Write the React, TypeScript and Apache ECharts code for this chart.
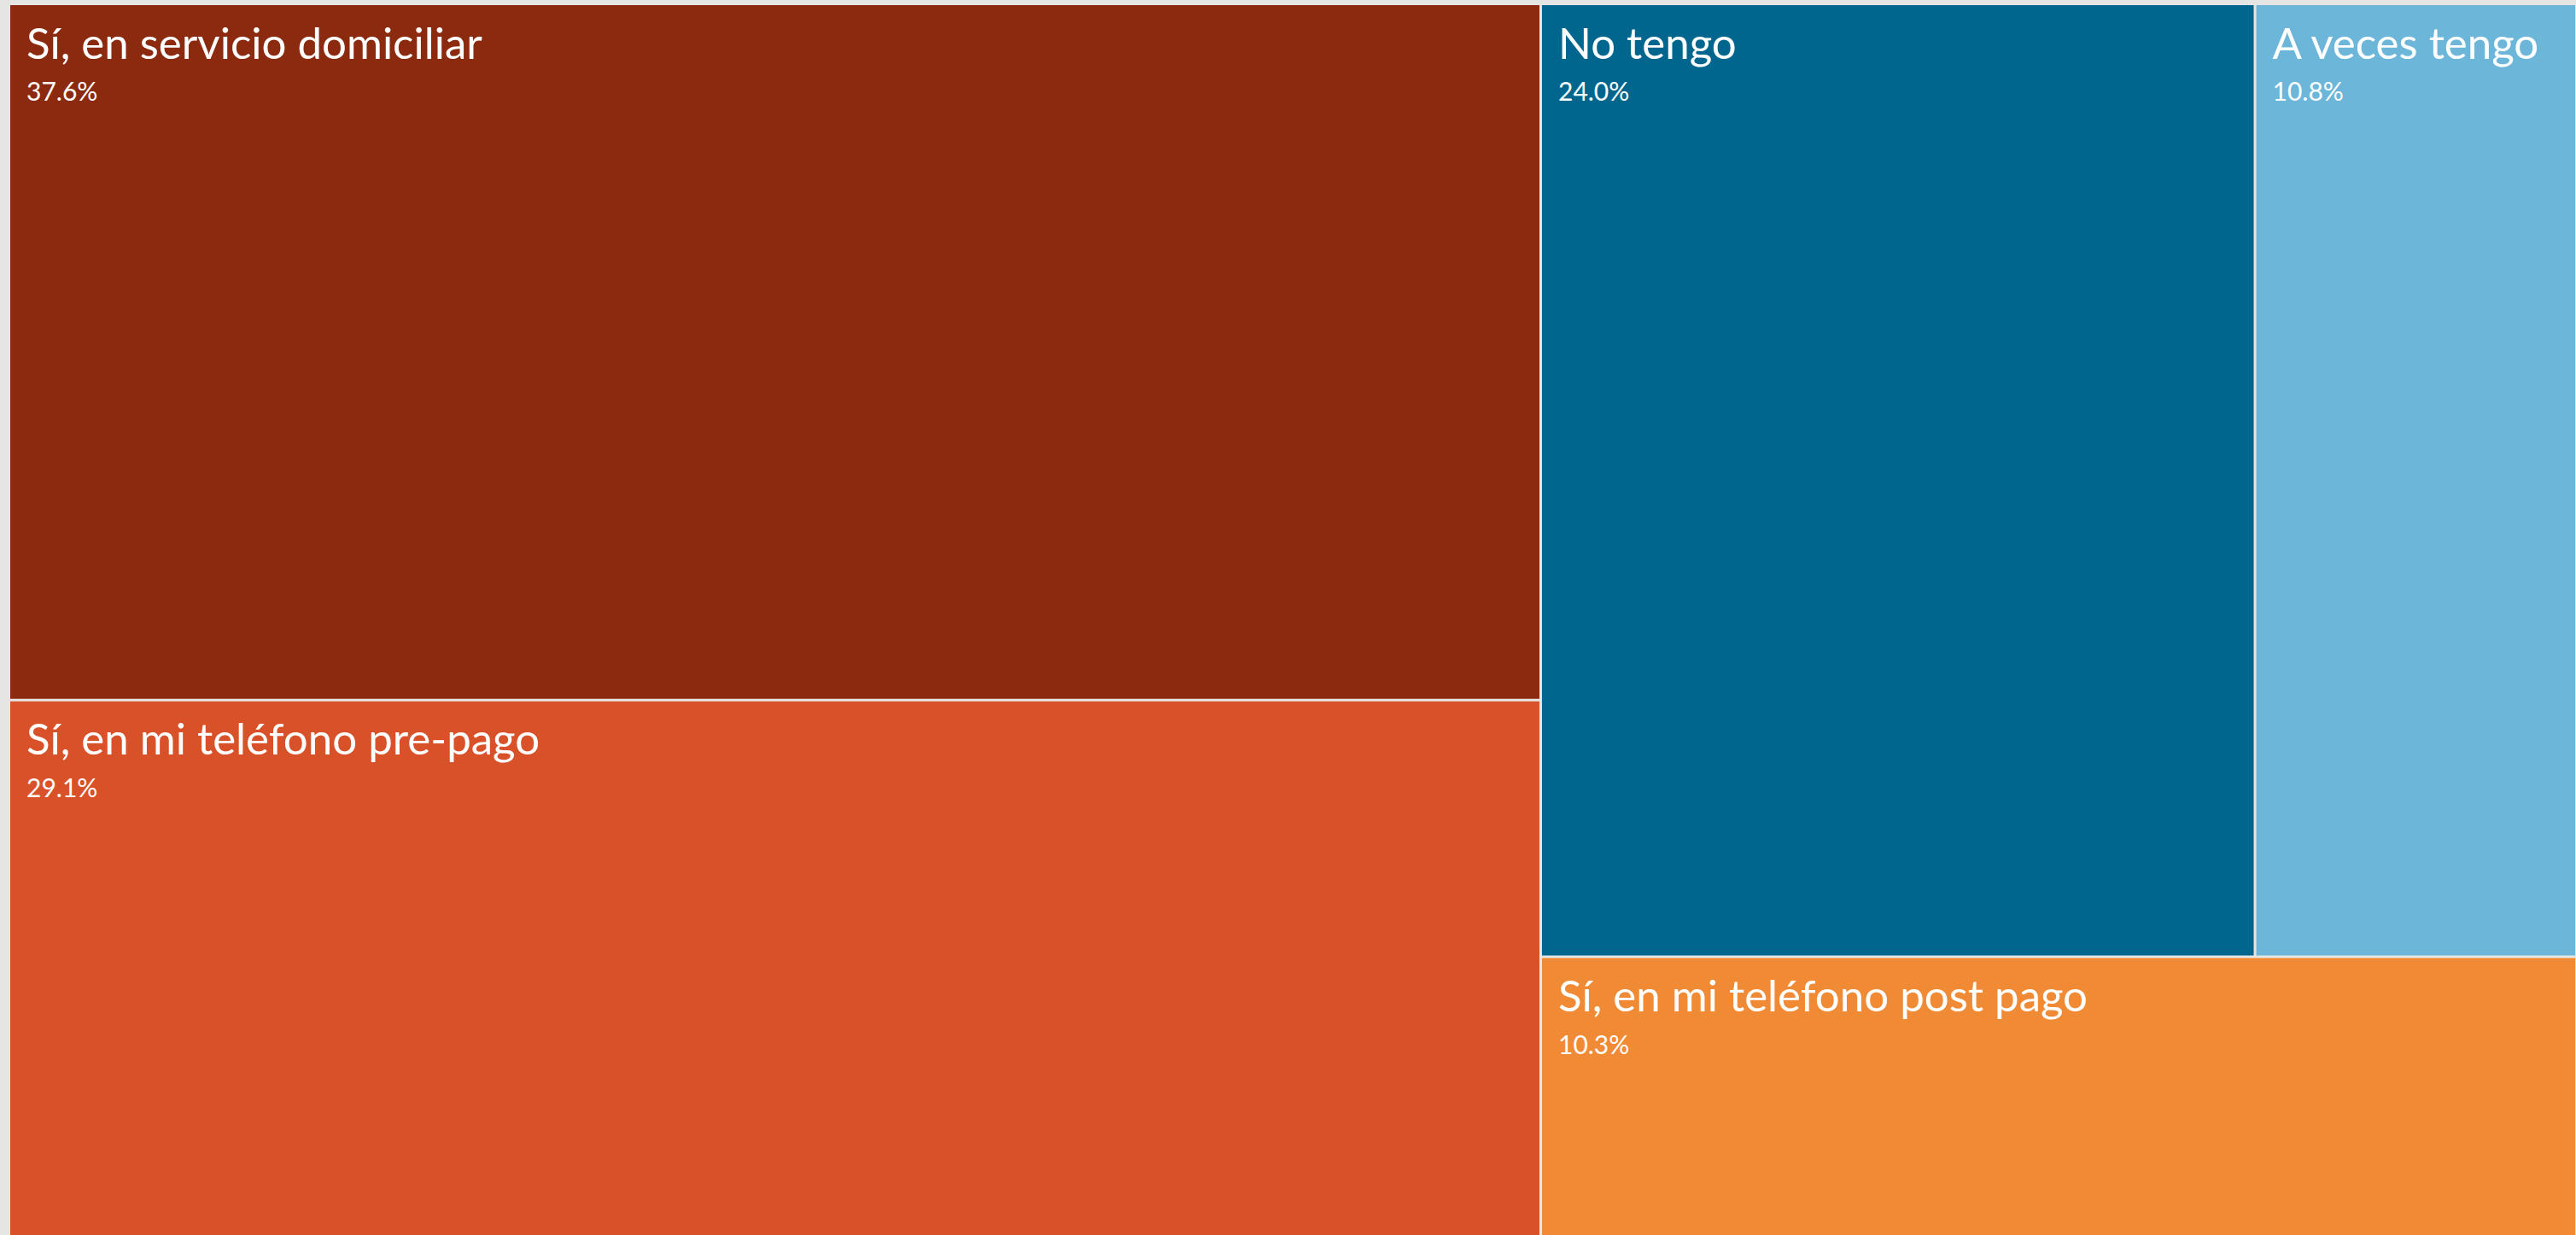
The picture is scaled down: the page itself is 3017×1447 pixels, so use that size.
import React, { useEffect, useRef } from "react";
import * as echarts from "echarts";

const categories = [
  "Sí, en servicio domiciliar",
  "Sí, en mi teléfono pre-pago",
  "No tengo",
  "A veces tengo",
  "Sí, en mi teléfono post pago",
];
const values = [37.6, 29.1, 24.0, 10.8, 10.3];
const colors = ["#8B2A0E", "#D95128", "#01668E", "#6CB6DA", "#F18A34"];

export default function App() {
  const ref = useRef<HTMLDivElement>(null);

  useEffect(() => {
    if (!ref.current) return;
    const chart = echarts.init(ref.current, null, { renderer: "svg" });
    const data = categories.map((name, i) => ({
      name,
      value: values[i],
      itemStyle: { color: colors[i] },
    }));
    chart.setOption({
      animation: false,
      backgroundColor: "#e5e5e4",
      series: [
        {
          type: "treemap",
          left: 12,
          top: 6,
          width: 3004,
          height: 1444,
          roam: false,
          nodeClick: false,
          breadcrumb: { show: false },
          itemStyle: {
            gapWidth: 3,
            borderWidth: 0,
            borderColor: "#e6e6e5",
          },
          label: {
            show: true,
            position: [14, 8],
            color: "#ffffff",
            fontFamily: "Lato",
            formatter: (p: any) =>
              `{t|${p.name}}\n{p|${Number(p.value).toFixed(1)}%}`,
            rich: {
              t: {
                fontFamily: "Lato",
                fontSize: 51,
                lineHeight: 60,
                color: "#ffffff",
              },
              p: {
                fontFamily: "Lato",
                fontSize: 30,
                lineHeight: 54,
                color: "#ffffff",
              },
            },
          },
          data,
        },
      ],
    });
    return () => chart.dispose();
  }, []);

  return (
    <div
      ref={ref}
      style={{
        position: "fixed",
        left: 0,
        top: 0,
        width: 3017,
        height: 1447,
        overflow: "hidden",
        background: "#e5e5e4",
      }}
    />
  );
}
